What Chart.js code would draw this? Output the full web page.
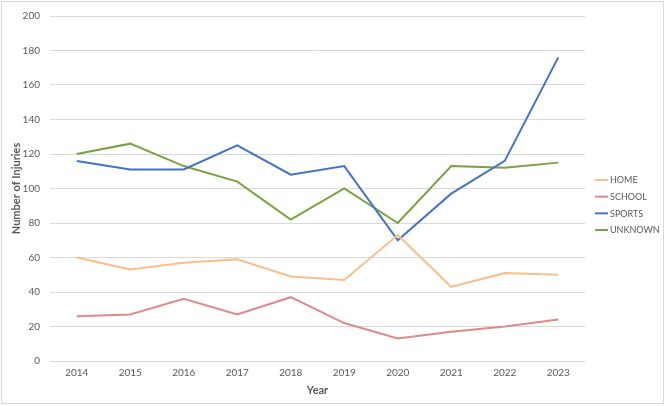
<!DOCTYPE html>
<html>
<head>
<meta charset="utf-8">
<script src="https://cdn.jsdelivr.net/npm/chart.js@4"></script>
<style>
  html, body { margin: 0; padding: 0; background: #fff; }
  canvas { display: block; }
</style>
</head>
<body>
<canvas id="injury-chart" width="666" height="406"></canvas>
<script>
// Injury counts per year
const years = ['2014', '2015', '2016', '2017', '2018', '2019', '2020', '2021', '2022', '2023'];
const homeInjuries = [60, 53, 57, 59, 49, 47, 73, 43, 51, 50];
const schoolInjuries = [26, 27, 36, 27, 37, 22, 13, 17, 20, 24];
const sportsInjuries = [116, 111, 111, 125, 108, 113, 70, 97, 116, 176];
const unknownInjuries = [120, 126, 113, 104, 82, 100, 80, 113, 112, 115];

const seriesNames = ['HOME', 'SCHOOL', 'SPORTS', 'UNKNOWN'];
const seriesColors = ['#F8BE8C', '#DE8A8C', '#4472C4', '#77A33F'];

const textColor = '#595959';
const gridColor = '#d9d9d9';
const fontFamily = 'Lato, "Open Sans", sans-serif';

function makeDataset(i, values) {
  return {
    label: seriesNames[i],
    data: values,
    borderColor: seriesColors[i],
    backgroundColor: seriesColors[i],
    borderWidth: 2,
    pointRadius: 0,
    tension: 0,
  };
}

// Excel-like outer border of the chart area
const borderPlugin = {
  id: 'outerBorder',
  beforeDraw(chart) {
    const ctx = chart.ctx;
    ctx.save();
    ctx.strokeStyle = gridColor;
    ctx.lineWidth = 1;
    ctx.strokeRect(1.5, 1.5, 662, 402);
    ctx.restore();
  },
};

// Legend on the right, drawn from the dataset labels and colours
const sideLegend = {
  id: 'sideLegend',
  afterDraw(chart) {
    const ctx = chart.ctx;
    const x0 = chart.chartArea.right + 10;
    const step = 16.7;
    const y0 = 205 - step * (chart.data.datasets.length - 1) / 2;
    ctx.save();
    ctx.font = '9px ' + fontFamily;
    ctx.textBaseline = 'middle';
    ctx.fillStyle = textColor;
    chart.data.datasets.forEach((ds, i) => {
      const y = y0 + i * step;
      ctx.strokeStyle = ds.borderColor;
      ctx.lineWidth = 2;
      ctx.beginPath();
      ctx.moveTo(x0, y);
      ctx.lineTo(x0 + 13, y);
      ctx.stroke();
      ctx.fillText(ds.label, x0 + 15, y + 0.5);
    });
    ctx.restore();
  },
};

const ctx = document.getElementById('injury-chart').getContext('2d');
new Chart(ctx, {
  type: 'line',
  data: {
    labels: years,
    datasets: [
      makeDataset(0, homeInjuries),
      makeDataset(1, schoolInjuries),
      makeDataset(2, sportsInjuries),
      makeDataset(3, unknownInjuries),
    ],
  },
  options: {
    responsive: false,
    animation: false,
    devicePixelRatio: 1,
    layout: { padding: { top: 16, right: 81, bottom: 0, left: 0 } },
    plugins: {
      legend: { display: false },
      tooltip: { enabled: false },
    },
    scales: {
      x: {
        offset: true,
        grid: { display: false, drawTicks: false },
        border: { display: false },
        ticks: { color: textColor, padding: 6, font: { family: fontFamily, size: 10 } },
        title: {
          display: true,
          text: 'Year',
          color: textColor,
          padding: { top: 4, bottom: 9 },
          font: { family: fontFamily, size: 11, weight: 'bold' },
        },
        afterFit(scale) { scale.height = 45; },
      },
      y: {
        min: 0,
        max: 200,
        grid: { color: gridColor, lineWidth: 1, drawTicks: false },
        border: { display: false },
        ticks: { stepSize: 20, color: textColor, padding: 10, font: { family: fontFamily, size: 10 } },
        title: {
          display: true,
          text: 'Number of Injuries',
          color: textColor,
          padding: { top: 10, bottom: 4 },
          font: { family: fontFamily, size: 11, weight: 'bold' },
        },
        afterFit(scale) { scale.width = 50; },
      },
    },
  },
  plugins: [borderPlugin, sideLegend],
});
</script>
</body>
</html>
